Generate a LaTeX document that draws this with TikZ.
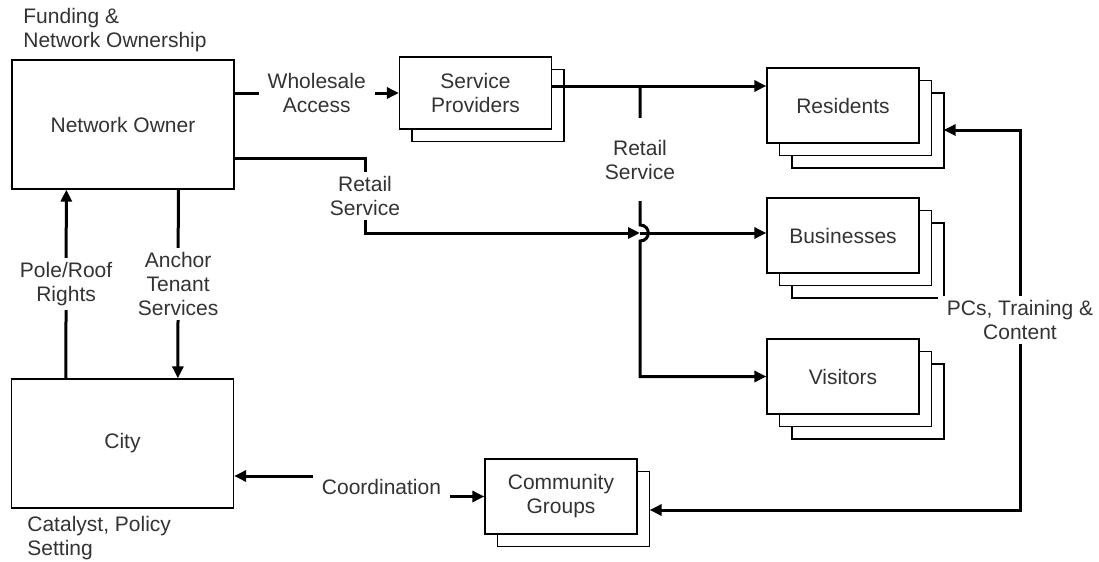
\documentclass[tikz,border=0pt]{standalone}
\usepackage{fontspec}
\setmainfont{Liberation Sans}
\usepackage{xcolor}
\definecolor{inkgray}{HTML}{333333}
\usepackage{tikz}
\usetikzlibrary{positioning,arrows.meta,shadows,calc}

\begin{document}
\begin{tikzpicture}[x=0.5pt, y=-0.5pt,
      font=\fontsize{10.5}{12}\selectfont,
      box/.style={draw, line width=0.65pt, fill=white, minimum width=76pt, minimum height=37.5pt,
                  align=center, text=inkgray},
      bigbox/.style={box, minimum width=111pt, minimum height=64.5pt},
      sheet/.style={general shadow={shadow xshift=6.25pt, shadow yshift=-6.25pt,
                  fill=white, draw, line width=0.65pt}},
      twosheets/.style={general shadow={shadow xshift=12.5pt, shadow yshift=-12.5pt,
                  fill=white, draw, line width=0.65pt}, sheet},
      lbl/.style={fill=white, align=center, text=inkgray, inner xsep=4.5pt, inner ysep=2pt},
      note/.style={align=left, text=inkgray, inner sep=0pt},
      arr/.style={-{Triangle[length=6pt, width=5.5pt]}, line width=1.5pt},
      twoway/.style={{Triangle[length=6pt, width=5.5pt]}-{Triangle[length=6pt, width=5.5pt]}, line width=1.5pt}]
    \useasboundingbox (0,0) rectangle (1099,562);
    \node[bigbox] (own)  at (123,124.5)   {Network Owner};
    \node[bigbox] (city) at (122.5,443.5) {City};
    \node[box, sheet, minimum height=36pt] (prov) at (475.5,93) {Service\\Providers};
    \node[box, twosheets] (res) at (843,105.5) {Residents};
    \node[box, twosheets] (bus) at (843,235.5) {Businesses};
    \node[box, twosheets] (vis) at (843,376.5) {Visitors};
    \node[box, sheet] (comm) at (561,496.5) {Community\\Groups};
    \node[note, anchor=west] (fund) at (23,30)  {Funding \&\\Network Ownership};
    \node[note, anchor=west] (cat)  at (27,538) {Catalyst, Policy\\Setting};
    \node[lbl] (coord) at (381.5,487) {Coordination};
    \coordinate (split) at (640,86);
    \coordinate (jmp) at (640,233);
    \coordinate (cw) at ($(coord.west)+(0,-11)$);
    % owner side
    \draw[arr] (own.east |- prov) -- node[lbl]{Wholesale\\Access} (prov);
    \draw[arr] ($(own.south east)+(0,-31)$) -| node[lbl, pos=0.75]{Retail\\Service} (365,233) -- (jmp);
    \draw[arr] ($(city.north west)+(55,0)$) -- node[lbl]{Pole/Roof\\Rights} ($(own.south west)+(55,0)$);
    \draw[arr] ($(own.south west)+(167,0)$) -- node[lbl]{Anchor\\Tenant\\Services} ($(city.north west)+(167,0)$);
    % providers to customers
    \draw[arr] (prov.east |- split) -- (res.west |- split);
    \draw[arr] (split) -- node[lbl, pos=0.53, inner ysep=11pt]{Retail\\Service} ($(jmp)+(0,-8)$)
          .. controls ($(jmp)+(11,-8)$) and ($(jmp)+(11,8)$) .. ($(jmp)+(0,8)$) |- (vis.west);
    \draw[arr] (jmp) -- (jmp -| bus.west);
    % city and community
    \draw[arr] (cw) -- (cw -| city.east);
    \draw[arr] (coord.east |- comm.west) -- (comm.west);
    \draw[twoway] ($(comm.east)+(12,13.5)$) -| node[lbl, pos=0.75]{PCs, Training \&\\Content} (1020,130)
          -- ($(res.east)+(24,24.5)$);
  \end{tikzpicture}
\end{document}
